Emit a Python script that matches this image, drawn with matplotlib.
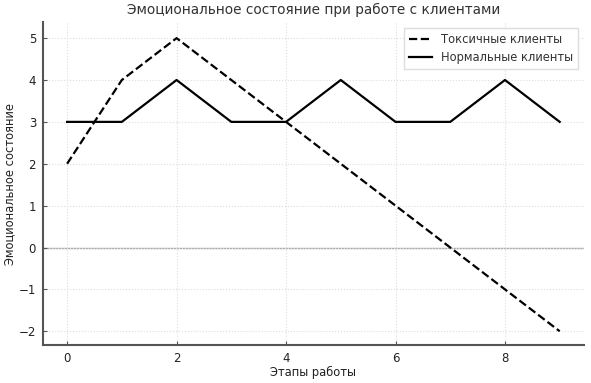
import matplotlib
matplotlib.use("Agg")
import matplotlib.pyplot as plt

stages = list(range(10))
toxic = [2, 4, 5, 4, 3, 2, 1, 0, -1, -2]
normal = [3, 3, 4, 3, 3, 4, 3, 3, 4, 3]

plt.rcParams['font.family'] = ['DejaVu Sans']
fig = plt.figure(figsize=(5.91, 3.83), dpi=100)
ax = fig.add_axes([0.0728, 0.099, 0.915, 0.843])

ax.plot(stages, toxic, linestyle='--', color='black', lw=1.6, label='Токсичные клиенты')
ax.plot(stages, normal, linestyle='-', color='black', lw=1.6, label='Нормальные клиенты')
ax.axhline(0, color='#aaaaaa', lw=1.0, zorder=0)

ax.set_title('Эмоциональное состояние при работе с клиентами', fontsize=9.8, color='#333333', pad=6)
ax.set_xlabel('Этапы работы', fontsize=8.3, color='#222222')
ax.set_ylabel('Эмоциональное состояние', fontsize=8.3, color='#222222')
ax.yaxis.set_label_coords(-0.05, 0.5)
ax.xaxis.set_label_coords(0.5, -0.065)

ax.set_xlim(-0.44, 9.44)
ax.set_ylim(-2.33, 5.38)
ax.set_xticks([0, 2, 4, 6, 8])
ax.set_yticks([-2, -1, 0, 1, 2, 3, 4, 5])
ax.set_yticklabels(['−2', '−1', '0', '1', '2', '3', '4', '5'])
ax.tick_params(direction='in', length=3, colors='#555555', labelcolor='#222222', labelsize=8.5, pad=5)
ax.grid(True, linestyle=':', color='#dddddd', lw=0.8)
for s in ['top', 'right']:
    ax.spines[s].set_visible(False)
for s in ['left', 'bottom']:
    ax.spines[s].set_color('#555555')
    ax.spines[s].set_linewidth(1.5)

leg = ax.legend(loc='upper right', fontsize=8.3, frameon=True, fancybox=False, framealpha=1,
                edgecolor='#dddddd', borderaxespad=0.5)
for t in leg.get_texts():
    t.set_color('#333333')

fig.savefig('out.png', dpi=100)
